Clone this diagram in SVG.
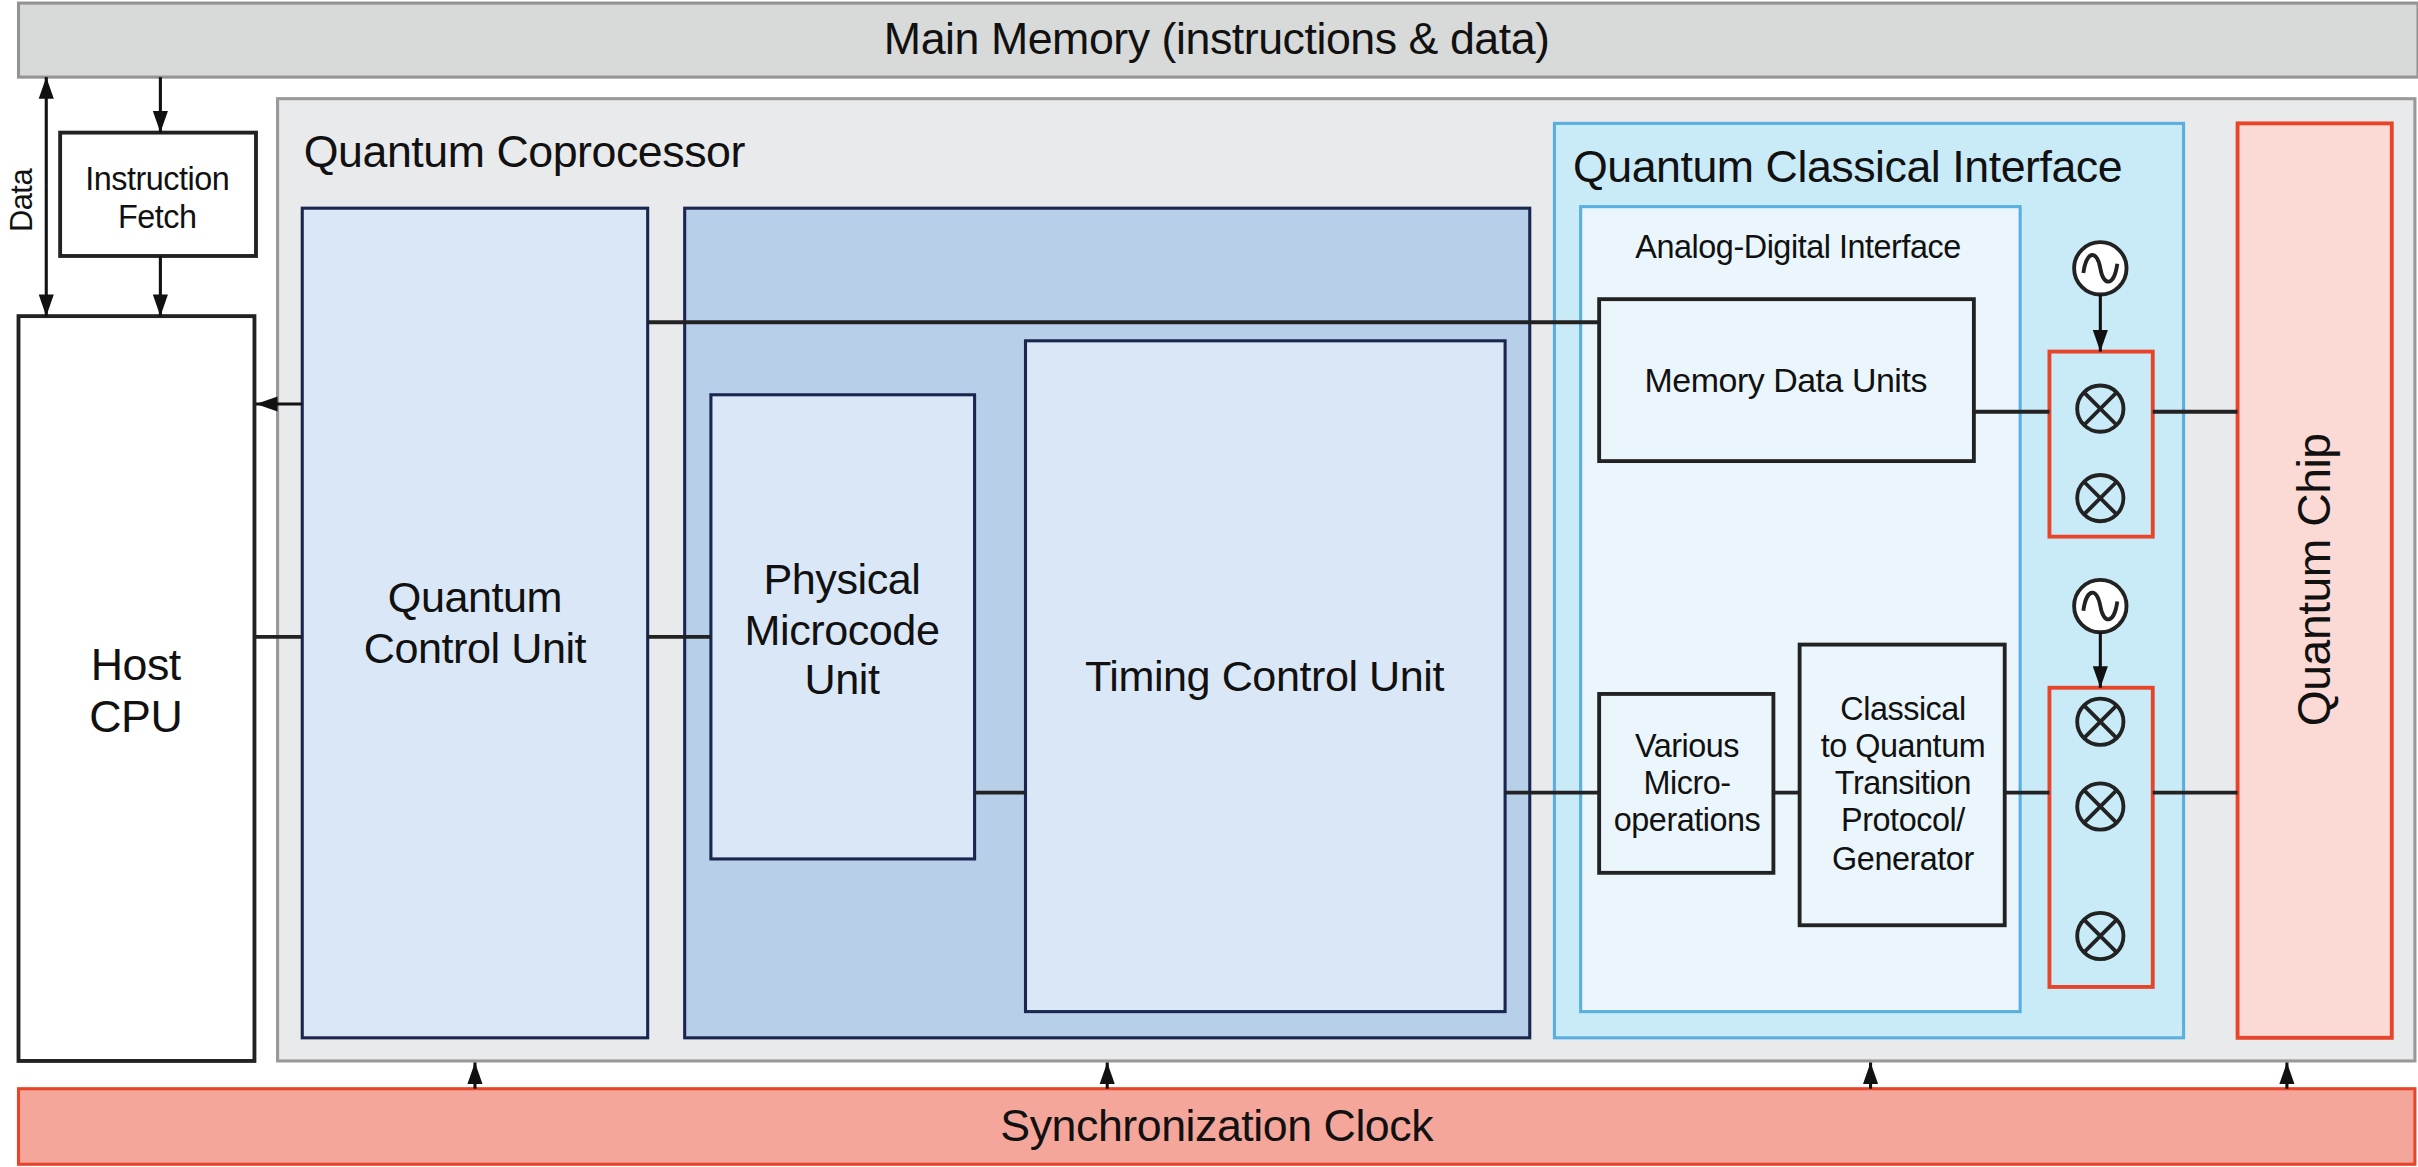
<svg xmlns="http://www.w3.org/2000/svg" width="2418" height="1167" viewBox="0 0 2418 1167">
<defs>
<marker id="ah" viewBox="0 0 10 10" refX="10" refY="5" markerWidth="16" markerHeight="14" markerUnits="userSpaceOnUse" orient="auto-start-reverse"><path d="M0,1.5 L10,5 L0,8.5 z" fill="#111"/></marker>
<g id="mix"><circle r="15" fill="none" stroke="#222" stroke-width="2.5"/><path d="M-10.6,-10.6 L10.6,10.6 M10.6,-10.6 L-10.6,10.6" stroke="#222" stroke-width="2.5"/></g>
<g id="osc"><circle r="17" fill="#fff" stroke="#222" stroke-width="2.5"/><path d="M-11,3 C-9,-12 -2,-12 0,0 C2,12 9,12 11,-3" fill="none" stroke="#222" stroke-width="2.5"/></g>
</defs>
<style>
text{font-family:"Liberation Sans",Arial,sans-serif;fill:#111;letter-spacing:-0.3px}
.c{text-anchor:middle}
.l{stroke:#222;stroke-width:2.5;fill:none}
.a{stroke:#111;stroke-width:2;fill:none;marker-end:url(#ah)}
.dk{stroke:#1a2550;stroke-width:2}
</style>
<rect width="2418" height="1167" fill="#fff"/>
<g transform="scale(1.54209)">
<g id="mainmem"><rect x="12" y="2" width="1556" height="48" fill="#d8d9d9" stroke="#939393" stroke-width="2"/><text class="c" x="789" y="35" font-size="29">Main Memory (instructions &amp; data)</text></g>
<g id="coproc"><rect x="180" y="64" width="1386" height="624" fill="#e9eaec" stroke="#999" stroke-width="2"/><text x="197" y="108" font-size="29">Quantum Coprocessor</text></g>
<g id="ifetch"><rect x="39" y="86" width="127" height="80" fill="#fff" stroke="#222" stroke-width="2.5"/><text class="c" x="102" y="123" font-size="21">Instruction</text><text class="c" x="102" y="148" font-size="21">Fetch</text></g>
<g id="host"><rect x="12" y="205" width="153" height="483" fill="#fff" stroke="#222" stroke-width="2.5"/><text class="c" x="88" y="441" font-size="29">Host</text><text class="c" x="88" y="475" font-size="29">CPU</text></g>
<g id="qcu"><rect x="196" y="135" width="224" height="538" fill="#dae7f6" class="dk"/><text class="c" x="308" y="397" font-size="28">Quantum</text><text class="c" x="308" y="430" font-size="28">Control Unit</text></g>
<g id="dark"><rect x="444" y="135" width="548" height="538" fill="#b8cfe9" class="dk"/></g>
<g id="pmu"><rect x="461" y="256" width="171" height="301" fill="#dae7f6" class="dk"/><text class="c" x="546" y="385" font-size="28">Physical</text><text class="c" x="546" y="418" font-size="28">Microcode</text><text class="c" x="546" y="450" font-size="28">Unit</text></g>
<g id="tcu"><rect x="665" y="221" width="311" height="435" fill="#dae7f6" class="dk"/><text class="c" x="820" y="448" font-size="28">Timing Control Unit</text></g>
<g id="qci"><rect x="1008" y="80" width="408" height="593" fill="#c9eaf7" stroke="#5aaee0" stroke-width="2"/><text x="1020" y="118" font-size="29">Quantum Classical Interface</text></g>
<g id="adi"><rect x="1025" y="134" width="285" height="522" fill="#eaf6fb" stroke="#5aaee0" stroke-width="2"/><text class="c" x="1166" y="167" font-size="21">Analog-Digital Interface</text></g>
<g id="mdu"><rect x="1037" y="194" width="243" height="105" fill="#eaf6fb" stroke="#222" stroke-width="2.5"/><text class="c" x="1158" y="254" font-size="22">Memory Data Units</text></g>
<g id="vmo"><rect x="1037" y="450" width="113" height="116" fill="#eaf6fb" stroke="#222" stroke-width="2.5"/><text class="c" x="1094" y="491" font-size="21">Various</text><text class="c" x="1094" y="515" font-size="21">Micro-</text><text class="c" x="1094" y="539" font-size="21">operations</text></g>
<g id="cqt"><rect x="1167" y="418" width="133" height="182" fill="#eaf6fb" stroke="#222" stroke-width="2.5"/><text class="c" x="1234" y="467" font-size="21">Classical</text><text class="c" x="1234" y="491" font-size="21">to Quantum</text><text class="c" x="1234" y="515" font-size="21">Transition</text><text class="c" x="1234" y="539" font-size="21">Protocol/</text><text class="c" x="1234" y="564" font-size="21">Generator</text></g>
<g id="mixer1"><rect x="1329" y="228" width="67" height="120" fill="#c9eaf7" stroke="#e8442a" stroke-width="2.5"/><use href="#mix" x="1362" y="265"/><use href="#mix" x="1362" y="323"/></g>
<g id="mixer2"><rect x="1329" y="446" width="67" height="194" fill="#c9eaf7" stroke="#e8442a" stroke-width="2.5"/><use href="#mix" x="1362" y="468"/><use href="#mix" x="1362" y="523"/><use href="#mix" x="1362" y="607"/></g>
<g id="osc1"><use href="#osc" x="1362" y="174"/></g>
<g id="osc2"><use href="#osc" x="1362" y="393"/></g>
<g id="qchip"><rect x="1451" y="80" width="100" height="593" fill="#fbd9d4" stroke="#e8442a" stroke-width="2.5"/><text class="c" transform="translate(1511,376) rotate(-90)" font-size="30">Quantum Chip</text></g>
<g id="sync"><rect x="12" y="706" width="1554" height="49" fill="#f5a69b" stroke="#e8442a" stroke-width="2"/><text class="c" x="789" y="740" font-size="29">Synchronization Clock</text></g>
<text class="c" transform="translate(21,130) rotate(-90)" font-size="20">Data</text>
<g id="connectors">
<path class="a" d="M30,120 L30,50" /><path class="a" d="M30,120 L30,205"/>
<path class="a" d="M104,50 L104,86"/><path class="a" d="M104,166 L104,205"/>
<path class="a" d="M196,262 L166,262"/>
<path class="l" d="M165,413 H196 M420,413 H461 M420,209 H1037 M632,514 H665 M976,514 H1037 M1150,514 H1167 M1300,514 H1329 M1396,514 H1451 M1280,267 H1329 M1396,267 H1451"/>
<path class="a" d="M1362,191 L1362,228"/><path class="a" d="M1362,410 L1362,446"/>
<path class="a" d="M308,706 L308,689"/><path class="a" d="M718,706 L718,689"/><path class="a" d="M1213,706 L1213,689"/><path class="a" d="M1483,706 L1483,689"/>
</g>
</g>
</svg>
